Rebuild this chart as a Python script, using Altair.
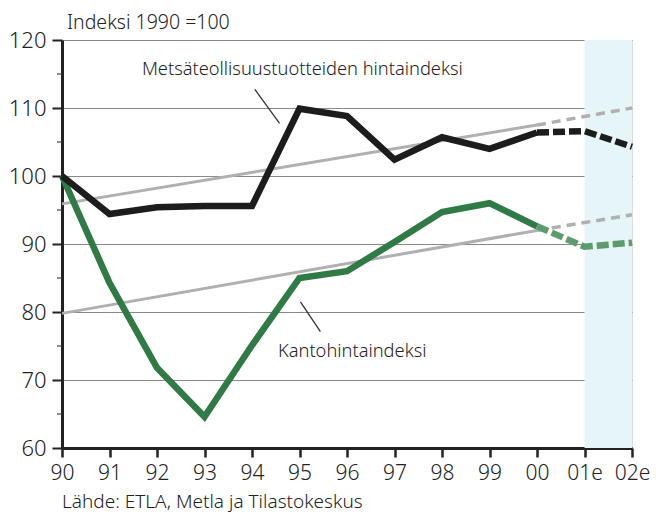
import altair as alt
import pandas as pd

# ---- data ----
years = [1990, 1991, 1992, 1993, 1994, 1995, 1996, 1997, 1998, 1999, 2000, 2001, 2002]
year_labels = ["90", "91", "92", "93", "94", "95", "96", "97", "98", "99", "00", "01e", "02e"]
metsa = [100.0, 94.4, 95.4, 95.6, 95.6, 109.9, 108.8, 102.4, 105.7, 104.0, 106.4, 106.6, 104.3]
kanto = [100.0, 84.3, 71.8, 64.6, 75.1, 85.0, 86.0, 90.3, 94.7, 96.0, 92.6, 89.6, 90.2]

trend_years = [1990, 2000, 2002]
trend_metsa = [95.9, 107.5, 110.0]
trend_kanto = [79.8, 92.0, 94.3]

minor_ticks = [65, 75, 85, 95, 105, 115]

label_metsa = "Metsäteollisuustuotteiden hintaindeksi"
label_kanto = "Kantohintaindeksi"
leader_metsa_x = [1994.06, 1994.58]
leader_metsa_y = [112.75, 107.75]
leader_kanto_x = [1995.02, 1995.44]
leader_kanto_y = [81.5, 77.1]
label_metsa_pos = (1995.06, 115.6)
label_kanto_pos = (1996.11, 74.1)

title_text = "Indeksi 1990 =100"
source_text = "Lähde: ETLA, Metla ja Tilastokeskus"
forecast_span = (2001, 2002)

# ---- build tables ----
split = years.index(2000)


def seg(vals, part):
    if part == "solid":
        return pd.DataFrame({"year": years[: split + 1], "v": vals[: split + 1]})
    return pd.DataFrame({"year": years[split:], "v": vals[split:]})


def tseg(vals, part):
    if part == "solid":
        return pd.DataFrame({"year": trend_years[:2], "v": vals[:2]})
    return pd.DataFrame({"year": trend_years[1:], "v": vals[1:]})


W, H = 570, 408
FONT = "Noto Sans"
labels_js = "[" + ",".join("'%s'" % s for s in year_labels) + "]"

xscale = alt.Scale(domain=[1990, 2002], nice=False, zero=False)
yscale = alt.Scale(domain=[60, 120], nice=False, zero=False)

x_axis = alt.Axis(
    values=years, labelExpr=labels_js + "[datum.value-1990]", title=None,
    grid=False, tickSize=9, tickWidth=2.5, tickColor="#222", domainWidth=3,
    domainColor="#222", labelFontSize=21, labelFont=FONT, labelColor="#222",
    labelPadding=5, labelFontWeight=300, labelOverlap=False, labelBound=False,
    labelFlush=False,
)
y_axis = alt.Axis(
    values=list(range(60, 121, 10)), title=None, grid=True, gridColor="#8a8a8a",
    gridWidth=1, tickSize=10, tickWidth=2, tickColor="#222", domainWidth=3,
    domainColor="#222", labelFontSize=22, labelFont=FONT, labelColor="#222",
    labelPadding=6, labelFontWeight=300, labelOverlap=False,
)

X = lambda: alt.X("year:Q", scale=xscale, axis=x_axis)
Y = lambda: alt.Y("v:Q", scale=yscale, axis=y_axis)

shade = alt.Chart(pd.DataFrame({"a": [forecast_span[0]], "b": [forecast_span[1]]})).mark_rect(
    color="#e6f5f8"
).encode(
    x=alt.X("a:Q", scale=xscale, axis=x_axis), x2="b:Q", y=alt.value(0), y2=alt.value(H)
)

minor = alt.Chart(pd.DataFrame({"v": minor_ticks})).mark_rule(
    color="#444", strokeWidth=1.2
).encode(y=alt.Y("v:Q", scale=yscale, axis=y_axis), x=alt.value(-5), x2=alt.value(0))


def line(df, color, width, dash=None):
    kw = dict(color=color, strokeWidth=width, strokeJoin="miter", strokeCap="butt")
    if dash:
        kw["strokeDash"] = dash
    return alt.Chart(df).mark_line(**kw).encode(x=X(), y=Y())


layers = [
    shade,
    line(tseg(trend_metsa, "solid"), "#b0b0b0", 3),
    line(tseg(trend_metsa, "dash"), "#b0b0b0", 3.5, [9, 6]),
    line(tseg(trend_kanto, "solid"), "#b0b0b0", 3),
    line(tseg(trend_kanto, "dash"), "#b0b0b0", 3.5, [9, 6]),
    line(seg(kanto, "solid"), "#2f7a45", 6.5),
    line(seg(kanto, "dash"), "#5c9c6c", 6.5, [12, 4]),
    line(seg(metsa, "solid"), "#1c1c1c", 6.5),
    line(seg(metsa, "dash"), "#1c1c1c", 6.5, [12, 4]),
    minor,
]

for lx, ly in [(leader_metsa_x, leader_metsa_y), (leader_kanto_x, leader_kanto_y)]:
    layers.append(
        alt.Chart(pd.DataFrame({"year": lx, "v": ly})).mark_line(color="#333", strokeWidth=1.3)
        .encode(x=X(), y=Y())
    )

for txt, (px, py) in [(label_metsa, label_metsa_pos), (label_kanto, label_kanto_pos)]:
    layers.append(
        alt.Chart(pd.DataFrame({"year": [px], "v": [py], "t": [txt]})).mark_text(
            font=FONT, fontSize=18.3, color="#222", align="center", baseline="middle",
            fontWeight=300,
        ).encode(x=X(), y=Y(), text="t:N")
    )

layers.append(
    alt.Chart(pd.DataFrame({"t": [title_text]})).mark_text(
        font=FONT, fontSize=19.5, color="#222", align="left", baseline="middle", fontWeight=300,
    ).encode(x=alt.value(5), y=alt.value(-17), text="t:N")
)
layers.append(
    alt.Chart(pd.DataFrame({"t": [source_text]})).mark_text(
        font=FONT, fontSize=19, color="#222", align="left", baseline="middle", fontWeight=300,
    ).encode(x=alt.value(0), y=alt.value(H + 54), text="t:N")
)

chart = alt.layer(*layers).properties(
    width=W, height=H,
    autosize=alt.AutoSizeParams(type="none"),
    padding={"left": 54, "top": 32, "right": 19, "bottom": 66},
).configure_view(stroke="#222", strokeWidth=2.5).configure(background="white")

chart.save("out.html", embed_options={"renderer": "svg", "actions": False})
